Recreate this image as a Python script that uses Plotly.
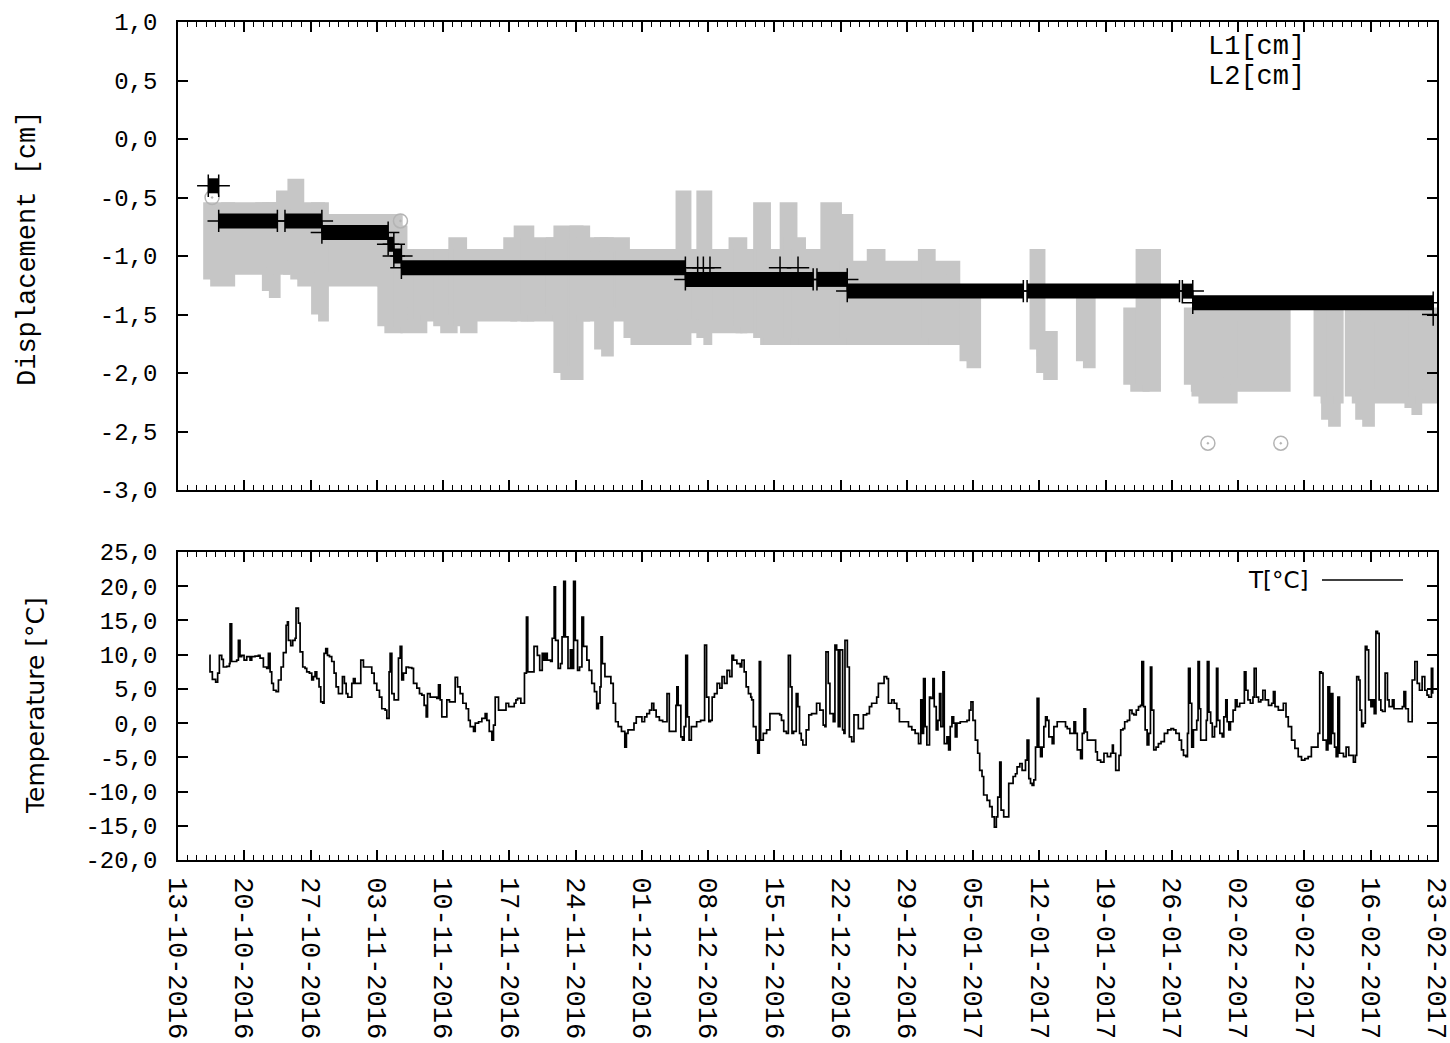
import pandas as pd
import plotly.graph_objects as go

START = pd.Timestamp("2016-10-13")
END_DAY = 133  # 23-02-2017

# ---------------- Temperature series (days since 13-10-2016, degC) ----------------
temp_day = [3.31, 3.38, 3.63, 3.98, 4.19, 4.37, 4.62, 4.79, 5.14, 5.43, 5.50, 5.67, 5.85, 6.20, 6.38, 6.55, 6.73, 6.98,
            7.26, 7.61, 7.79, 8.14, 8.49, 8.67, 9.02, 9.37, 9.55, 9.73, 9.90, 10.08, 10.36, 10.61, 10.89, 11.13, 11.42,
            11.56, 11.66, 11.91, 12.12, 12.37, 12.47, 12.72, 12.90, 13.18, 13.42, 13.60, 13.88, 14.13, 14.31, 14.48,
            14.66, 14.90, 15.08, 15.29, 15.43, 15.61, 15.79, 16.00, 16.24, 16.49, 16.70, 16.95, 17.20, 17.37, 17.58,
            17.76, 17.94, 18.18, 18.36, 18.53, 18.71, 19.06, 19.31, 19.59, 19.94, 20.23, 20.47, 20.72, 21.00, 21.28,
            21.53, 21.88, 22.06, 22.30, 22.41, 22.59, 22.83, 23.12, 23.29, 23.47, 23.64, 23.82, 24.10, 24.35, 24.70,
            24.88, 25.23, 25.51, 25.76, 26.00, 26.22, 26.36, 26.64, 26.99, 27.34, 27.52, 27.70, 27.87, 28.22, 28.40,
            28.68, 28.93, 29.28, 29.53, 29.81, 30.09, 30.44, 30.69, 30.87, 31.22, 31.40, 31.75, 32.10, 32.45, 32.63,
            32.88, 33.16, 33.33, 33.51, 33.86,
            34.30, 34.65, 34.93, 35.17, 35.52, 35.70, 35.87, 36.22, 36.46, 36.60, 36.81, 36.95, 37.37, 37.61, 37.79,
            37.96, 38.21, 38.48, 38.66, 38.83, 39.01, 39.36, 39.53, 39.74, 39.88, 40.16, 40.40, 40.57, 40.75, 40.92,
            41.20, 41.45, 41.62, 41.79, 41.97, 42.21, 42.42, 42.67, 42.84, 43.19, 43.43, 43.71, 43.99, 44.23, 44.41,
            44.58, 44.69, 44.83, 45.10, 45.45, 45.73, 45.98, 46.22, 46.50, 46.85, 47.20, 47.37, 47.54, 47.89, 48.17,
            48.41, 48.76, 49.01, 49.29, 49.53, 49.81, 50.05, 50.26, 50.51, 50.85, 51.20, 51.55, 51.66, 51.90, 52.25,
            52.60, 52.70, 52.84, 53.12, 53.29, 53.47, 53.64, 53.82, 53.99, 54.23, 54.51, 54.79, 55.21, 55.49, 55.63,
            55.84, 56.08, 56.25, 56.43, 56.67, 56.95, 57.23, 57.47, 57.72, 58.00, 58.28, 58.52, 58.69, 59.04, 59.39,
            59.56, 59.81, 60.02, 60.26, 60.51, 60.61, 60.78, 61.06, 61.24, 61.41, 61.55, 61.83, 62.18, 62.53, 62.87,
            63.22, 63.57, 63.75, 63.99, 64.27, 64.48, 64.69, 64.86, 65.03, 65.31, 65.49, 65.66, 65.84, 66.01, 66.36,
            66.64,
            66.93, 67.28, 67.46, 67.63, 67.81, 68.16, 68.34, 68.45, 68.69, 68.87, 69.22, 69.40, 69.58, 69.75, 69.93,
            70.21, 70.35, 70.46, 70.71, 70.92, 71.17, 71.41, 71.69, 71.87, 72.12, 72.40, 72.75, 73.04, 73.28, 73.64,
            73.81, 73.99, 74.34, 74.59, 74.87, 75.05, 75.40, 75.65, 75.93, 76.21, 76.46, 76.81, 77.17, 77.52, 77.87,
            78.23, 78.47, 78.58, 78.76, 78.93, 79.11, 79.39, 79.53, 79.75, 79.89, 80.10, 80.28, 80.45, 80.59, 80.81,
            80.95, 81.23, 81.41, 81.58, 81.76, 81.94, 82.11, 82.29, 82.64, 82.99, 83.35, 83.59, 83.77, 83.98, 84.23,
            84.48, 84.69, 84.94, 85.11, 85.47, 85.75, 86.00, 86.24, 86.45, 86.60, 86.81, 86.95, 87.23, 87.51, 87.76,
            87.94, 88.22, 88.47, 88.64, 88.93, 89.17, 89.35, 89.53, 89.70, 89.88, 90.06, 90.23, 90.41, 90.59, 90.76,
            90.94, 91.12, 91.29, 91.47, 91.65, 91.82, 92.00, 92.35, 92.53, 92.88, 93.23, 93.59, 93.76, 93.94, 94.22,
            94.47, 94.65, 94.82, 95.00, 95.35, 95.53, 95.71, 95.88, 96.06, 96.41, 96.77, 96.94, 97.12, 97.47, 97.82,
            98.18, 98.53, 98.71, 98.81, 99.06, 99.41, 99.59,
            99.83, 100.01, 100.29, 100.53, 100.78, 100.98, 101.23, 101.47, 101.68, 101.82, 102.00, 102.17, 102.38,
            102.56, 102.73, 102.87, 103.08, 103.32, 103.57, 103.85, 104.20, 104.55, 104.90, 105.17, 105.42, 105.77,
            106.01, 106.22, 106.47, 106.64, 106.75, 106.92, 107.09, 107.27, 107.62, 107.76, 107.90, 108.04, 108.39,
            108.63, 108.74, 108.91, 109.09, 109.26, 109.50, 109.71, 109.85, 110.06, 110.31, 110.48, 110.69, 110.83,
            111.01, 111.18, 111.46, 111.70, 111.88, 112.16, 112.40, 112.65, 112.82, 113.03, 113.28, 113.56, 113.69,
            113.90, 114.15, 114.39, 114.60, 114.85, 115.20, 115.54, 115.72, 115.89, 116.24, 116.59, 116.77, 117.05,
            117.29, 117.64, 117.99, 118.34, 118.69, 119.04, 119.39, 119.73, 120.08, 120.43, 120.61, 120.78, 120.96,
            121.31, 121.48, 121.66, 121.83, 122.00, 122.18, 122.35, 122.53, 122.70, 122.88, 123.12, 123.40, 123.68,
            123.92, 124.17, 124.38, 124.52, 124.73, 124.87, 125.04, 125.22, 125.43, 125.60, 125.78, 126.02, 126.20,
            126.37, 126.55, 126.72, 126.89, 127.07, 127.24, 127.52, 127.77, 127.94, 128.29, 128.46, 128.81, 129.16,
            129.34, 129.51, 129.69, 129.97, 130.21, 130.38, 130.66, 130.91, 131.15, 131.43, 131.71, 131.95, 132.13,
            132.41, 132.55]
temp_c = [9.9, 7.5, 6.4, 6.0, 7.3, 9.9, 9.3, 8.2, 8.3, 8.7, 14.5, 9.0, 9.0, 9.2, 12.1, 9.7, 9.9, 9.2,
          9.7, 9.2, 9.7, 9.8, 9.9, 9.5, 8.2, 8.0, 10.2, 7.5, 5.8, 4.8, 4.6, 6.3, 8.2, 10.3, 14.3,
          14.8, 12.1, 11.3, 12.1, 12.4, 16.8, 14.6, 10.4, 8.2, 8.0, 7.5, 7.3, 6.3, 6.8, 7.5,
          6.5, 5.3, 3.1, 2.9, 10.2, 10.9, 9.9, 9.7, 9.0, 7.3, 5.3, 4.3, 4.3, 6.8, 5.8,
          4.3, 3.8, 3.8, 5.8, 6.5, 5.8, 5.8, 9.2, 8.2, 8.2, 8.2, 7.3, 5.8, 4.8, 3.8,
          2.1, 1.9, 0.7, 7.5, 10.2, 4.3, 3.4, 3.4, 9.5, 11.2, 6.3, 7.3, 8.2, 8.1, 8.0,
          5.8, 5.1, 4.3, 4.1, 2.6, 0.9, 4.3, 3.8, 3.8, 3.6, 5.6, 3.4, 0.9, 0.9, 3.4,
          3.1, 3.1, 6.7, 5.3, 4.3, 2.9, 2.1, 0.4, -0.5, -1.2, 0.0, 0.2, 0.7, 1.4, 0.4,
          -1.2, -2.5, -0.3, 3.8, 1.9,
          1.9, 2.9, 2.4, 2.4, 2.9, 3.4, 3.6, 2.9, 2.9, 7.3, 15.5, 7.5, 7.5, 11.2, 11.2,
          9.9, 7.7, 10.2, 9.2, 10.2, 9.2, 9.0, 12.4, 19.9, 12.1, 8.0, 8.7, 12.6, 20.7, 12.6,
          8.0, 10.7, 8.0, 20.7, 12.1, 7.7, 8.2, 15.5, 11.2, 9.2, 7.7, 5.8, 4.6, 2.1, 2.9,
          5.3, 12.6, 8.7, 6.8, 6.8, 5.8, 2.9, 0.2, -0.5, -1.2, -3.5, -1.5, -1.0, -1.0, 0.0,
          0.9, 0.9, 0.2, 0.9, 1.4, 1.9, 2.9, 1.9, 0.9, 0.4, 0.2, 0.2, 4.3, -1.2, -1.2,
          2.6, 5.3, 2.6, -2.0, -2.5, -0.5, 9.9, 0.9, -2.5, -0.5, -0.5, 0.2, 0.4, 0.4, 11.4,
          3.8, 0.2, 0.4, 3.8, 4.3, 5.8, 5.1, 6.8, 5.8, 7.7, 6.8, 9.9, 9.2, 8.7, 8.2,
          9.2, 7.5, 5.3, 4.3, 3.8, 3.4, -0.5, -2.5, -4.4, 9.0, -2.5, -1.5, -1.0, 1.4, 1.4,
          1.4, 1.2, 0.4, -1.2, -1.5, 9.9, 5.3, -1.5, -1.2, 4.3, 2.4, -1.5, -2.5, -3.2, -1.0,
          1.2,
          1.4, 1.4, 2.9, 2.9, 1.9, -0.3, -0.5, 10.4, 5.8, 1.4, 0.2, 11.4, 10.7, -0.5, 10.7,
          -1.0, -1.5, 12.1, 8.2, -2.0, -2.7, 1.2, 1.2, -0.8, -0.8, 1.2, 1.4, 2.4, 2.9, 2.9,
          3.8, 5.8, 5.8, 6.8, 6.5, 2.9, 3.4, 2.9, 2.1, 0.2, 0.2, 0.2, -0.5, -1.0, -1.5,
          -3.0, 3.4, -1.5, 6.5, -0.5, -3.2, 3.8, 3.6, 6.5, 2.4, -1.0, 0.4, 4.3, -0.5, 7.5,
          -3.0, -2.0, -3.9, -0.5, 0.9, 0.0, -2.0, 0.0, 0.2, 0.2, 0.4, 1.9, 3.1, 0.4, -2.5,
          -4.4, -6.9, -7.8, -10.5, -11.3, -12.2, -13.7, -15.2, -13.7, -10.8, -5.7, -12.7, -13.7, -13.7, -8.8,
          -8.8, -7.8, -7.4, -6.4, -5.9, -6.9, -6.9, -5.4, -2.5, -8.1, -8.8, -9.1, -8.3, -3.5, 3.6,
          -3.5, -4.9, -3.5, -0.5, 0.9, 0.4, -2.0, -3.0, -0.5, 0.2, 0.2, 0.2, -0.5, -0.8, -1.5,
          -1.5, 0.2, -1.5, -3.9, -5.2, -1.5, 2.1, -1.3, -2.5, -2.5, -2.5, -4.2, -5.4, -5.7, -4.4,
          -4.9, -4.4, -3.2, -4.4, -6.9, -4.7, -1.0,
          -0.8, 0.2, 0.4, 1.9, 1.4, 1.2, 1.9, 2.4, 2.6, 9.0, 2.4, -1.0, -3.2,
          -1.5, 8.2, 1.9, -3.9, -3.5, -3.0, -2.7, -1.5, -1.0, -0.8, -1.0, -1.5, -2.5,
          -3.9, -4.7, -4.9, -1.5, 8.0, 2.9, -3.5, -1.0, 0.4, 9.0, 2.1, -2.5, -2.5,
          0.4, 9.0, 1.6, 0.0, -2.0, -0.5, 8.0, 0.4, -1.5, -2.0, 0.9, 3.4, 0.2,
          -1.0, 0.2, 1.9, 3.4, 2.4, 2.9, 2.9, 7.5, 4.8, 3.4, 2.9, 3.8, 8.0,
          3.8, 3.1, 3.4, 4.8, 3.4, 2.6, 2.9, 4.6, 2.4, 1.9, 1.9, 2.9, 0.9,
          -0.5, -2.5, -3.7, -4.9, -5.4, -5.2, -4.9, -3.5, -3.5, -1.5, 7.5, 7.3, -2.5,
          -3.9, 5.3, -3.0, 4.3, -1.5, -3.5, -4.9, 3.8, -4.4, -4.4, -4.9, -3.5, -4.7,
          -4.7, -5.7, -4.7, 6.8, 6.3, 1.9, -0.5, 0.0, 11.2, 10.7, 3.4, 2.4, 3.4,
          1.4, 13.4, 13.1, 3.4, 1.9, 1.7, 7.3, 3.4, 2.4, 3.4, 2.1, 2.1, 2.1,
          2.4, 4.6, 2.1, 0.2, 0.2, 6.3, 9.0, 5.8, 4.8, 6.8, 4.8, 4.1, 3.8,
          8.0, 4.3]

# ---------------- L1 [cm]: spread of readings per period (start day, end day, low, high) ----------------
l1_start = [3.4, 5.3, 8.9, 9.6, 10.1, 11.1, 12.3, 12.6, 14.8, 15.2, 21.0, 21.8, 23.0, 23.5, 25.6, 27.7, 28.8,
            29.3, 29.8, 30.9, 35.1, 36.2, 36.9, 39.6, 40.4, 42.1, 42.8, 44.7, 45.3,
            47.8, 53.3, 53.5, 55.5, 55.7, 58.9, 59.4, 61.5, 61.9, 64.3, 64.7, 65.6, 68.6, 69.4, 70.6,
            73.5, 74.0, 78.9, 79.3, 83.3, 90.7, 91.4, 95.6, 100.6, 101.9, 107.0, 107.8, 111.2,
            120.7, 121.5, 122.1, 124.0, 125.1, 125.7, 130.3, 130.7]
l1_end = [5.3, 8.9, 9.6, 10.1, 11.1, 12.3, 12.6, 14.8, 15.2, 21.0, 21.8, 23.0, 23.5, 25.6, 27.7, 28.8, 29.3,
          29.8, 30.9, 35.1, 36.2, 36.9, 39.6, 40.4, 42.1, 42.8, 44.7, 45.3, 47.0,
          53.3, 53.5, 55.5, 55.7, 58.9, 59.4, 61.5, 61.9, 64.3, 64.7, 65.6, 68.6, 69.4, 70.6, 73.5,
          74.0, 78.9, 79.3, 81.9, 84.1, 90.9, 92.2, 96.2, 101.9, 103.1, 107.8, 111.2, 116.8,
          121.5, 122.1, 122.4, 125.1, 125.7, 130.3, 130.7, 132.9]
l1_low = [-1.2, -1.1, -1.1, -1.3, -1.1, -1.1, -1.1, -1.2, -1.5, -1.2, -1.2, -1.6, -1.5, -1.6, -1.5, -1.6, -1.5,
          -1.5, -1.6, -1.5, -1.5, -1.5, -1.5, -1.5, -2.0, -1.5, -1.5, -1.8, -1.5,
          -1.7, -1.7, -1.6, -1.7, -1.6, -1.6, -1.6, -1.7, -1.7, -1.7, -1.7, -1.7, -1.7, -1.7, -1.7,
          -1.7, -1.7, -1.7, -1.7, -1.9, -1.8, -2.0, -1.9, -2.1, -2.1, -2.1, -2.2, -2.1,
          -2.2, -2.4, -2.2, -2.2, -2.4, -2.2, -2.3, -2.2]
l1_high = [-0.6, -0.6, -0.6, -0.6, -0.6, -0.5, -0.4, -0.6, -0.6, -0.7, -0.7, -0.7, -0.8, -1.0, -1.0, -1.0, -1.0,
           -0.9, -1.0, -1.0, -0.9, -0.8, -0.9, -0.9, -0.8, -0.8, -0.9, -0.9, -0.9,
           -1.0, -0.5, -1.0, -0.5, -1.0, -0.9, -1.0, -0.6, -1.0, -0.6, -0.9, -1.0, -0.6, -0.7, -1.1,
           -1.0, -1.1, -1.0, -1.1, -1.4, -1.0, -1.7, -1.4, -1.5, -1.0, -1.5, -1.5, -1.5,
           -1.5, -1.5, -1.5, -1.5, -1.5, -1.5, -1.5, -1.5]
l1_single_day = [3.6, 23.5, 108.8, 116.5]
l1_single_val = [-0.5, -0.7, -2.6, -2.6]

# ---------------- L2 [cm]: constant readings per period ----------------
l2_start = [3.2, 4.3, 11.3, 15.2, 22.2, 22.8, 23.6, 53.6, 67.5, 70.7, 89.7, 106.1, 107.2]
l2_end = [4.3, 10.5, 15.2, 22.2, 22.8, 23.6, 53.6, 67.1, 70.7, 89.3, 105.8, 107.2, 132.6]
l2_val = [-0.4, -0.7, -0.7, -0.8, -0.9, -1.0, -1.1, -1.2, -1.2, -1.3, -1.3, -1.3, -1.4]
l2_single_day = [54.9, 55.5, 56.2, 63.6, 65.5, 132.6]
l2_single_val = [-1.1, -1.1, -1.1, -1.1, -1.1, -1.5]

# ---------------- Axis ticks ----------------
disp_tickvals = [1.0, 0.5, 0.0, -0.5, -1.0, -1.5, -2.0, -2.5, -3.0]
disp_ticktext = ["1,0", "0,5", "0,0", "-0,5", "-1,0", "-1,5", "-2,0", "-2,5", "-3,0"]
temp_tickvals = [25, 20, 15, 10, 5, 0, -5, -10, -15, -20]
temp_ticktext = ["25,0", "20,0", "15,0", "10,0", "5,0", "0,0", "-5,0", "-10,0", "-15,0", "-20,0"]


def to_date(d):
    return START + pd.to_timedelta(d, unit="D")


DAY_MS = 86400000
MONO = "Liberation Mono"
SANS = "DejaVu Sans"
GRAY = "#c6c6c6"

fig = go.Figure()

# L1 spread: one closed outline per period, stroke width mimics the circle markers' radius
px_, py_ = [], []
for s, e, lo, hi in zip(l1_start, l1_end, l1_low, l1_high):
    px_ += [to_date(s), to_date(e), to_date(e), to_date(s), to_date(s), None]
    py_ += [lo, lo, hi, hi, lo, None]
fig.add_trace(go.Scatter(
    x=px_, y=py_, mode="lines", fill="toself", fillcolor=GRAY,
    line=dict(color=GRAY, width=14),
    xaxis="x", yaxis="y", showlegend=False, hoverinfo="skip"))
fig.add_trace(go.Scatter(
    x=[to_date(d) for d in l1_single_day], y=l1_single_val, mode="markers",
    marker=dict(symbol="circle-open-dot", size=14, color="#b4b4b4", line=dict(width=1.5)),
    xaxis="x", yaxis="y", showlegend=False))

# L2 as dense '+' band
lx, ly = [], []
for s, e, v in zip(l2_start, l2_end, l2_val):
    lx += [to_date(s), to_date(e), None]
    ly += [v, v, None]
fig.add_trace(go.Scatter(x=lx, y=ly, mode="lines", line=dict(color="black", width=15),
                         xaxis="x", yaxis="y", showlegend=False))
ex = [to_date(s) for s in l2_start] + [to_date(e) for e in l2_end] + [to_date(d) for d in l2_single_day]
ey = list(l2_val) + list(l2_val) + list(l2_single_val)
fig.add_trace(go.Scatter(x=ex, y=ey, mode="markers",
                         marker=dict(symbol="cross-thin", size=16, line=dict(color="black", width=1.5)),
                         xaxis="x", yaxis="y", showlegend=False))

# Temperature
fig.add_trace(go.Scatter(x=[to_date(d) for d in temp_day], y=temp_c, mode="lines",
                         line=dict(color="black", width=1.7, shape="hv"),
                         xaxis="x2", yaxis="y2", showlegend=False))

xcommon = dict(type="date", range=[START, to_date(END_DAY + 0.002)], tick0=START, dtick=7 * DAY_MS,
               ticks="inside", ticklen=10, tickwidth=1.5, tickcolor="black",
               minor=dict(dtick=DAY_MS, ticks="inside", ticklen=5, tickwidth=1, tickcolor="black"),
               showline=True, linecolor="black", linewidth=1.5, mirror="ticks",
               showgrid=False, zeroline=False, automargin=False)
ycommon = dict(ticks="inside", ticklen=10, tickwidth=1.5, tickcolor="black",
               showline=True, linecolor="black", linewidth=1.5, mirror="ticks",
               showgrid=False, zeroline=False, tickfont=dict(family=MONO, size=24, color="black"),
               ticklabelstandoff=14, automargin=False)

H_PLOT = 838.0
fig.update_layout(
    width=1450, height=1043,
    margin=dict(l=178, r=13, t=22, b=183, autoexpand=False),
    paper_bgcolor="white", plot_bgcolor="white",
    showlegend=False,
    xaxis=dict(xcommon, anchor="y", showticklabels=False),
    yaxis=dict(ycommon, domain=[(860 - 490) / H_PLOT, 1.0], range=[-3, 1],
               tickvals=disp_tickvals, ticktext=disp_ticktext),
    xaxis2=dict(xcommon, anchor="y2", showticklabels=True, tickformat="%d-%m-%Y", tickangle=90,
                tickfont=dict(family=MONO, size=27, color="black"), ticklabelstandoff=10,
                ticklabeloverflow="allow"),
    yaxis2=dict(ycommon, domain=[0, (860 - 552) / H_PLOT], range=[-20, 25],
                tickvals=temp_tickvals, ticktext=temp_ticktext),
)

ann = []
ann.append(dict(text="Displacement [cm]", xref="paper", yref="paper", x=(28 - 178) / 1259, y=(860 - 249) / H_PLOT,
                textangle=-90, showarrow=False, font=dict(family=MONO, size=27, color="black"),
                xanchor="center", yanchor="middle"))
ann.append(dict(text="Temperature [°C]", xref="paper", yref="paper", x=(35 - 178) / 1259, y=(860 - 706) / H_PLOT,
                textangle=-90, showarrow=False, font=dict(family=SANS, size=25, color="black"),
                xanchor="center", yanchor="middle"))
ann.append(dict(text="L1[cm]", xref="paper", yref="paper", x=(1307 - 178) / 1259, y=(860 - 47) / H_PLOT,
                showarrow=False, font=dict(family=MONO, size=27, color="black"), xanchor="right", yanchor="middle"))
ann.append(dict(text="L2[cm]", xref="paper", yref="paper", x=(1307 - 178) / 1259, y=(860 - 77) / H_PLOT,
                showarrow=False, font=dict(family=MONO, size=27, color="black"), xanchor="right", yanchor="middle"))
ann.append(dict(text="T[°C]", xref="paper", yref="paper", x=(1311 - 178) / 1259, y=(860 - 580) / H_PLOT,
                showarrow=False, font=dict(family=SANS, size=23, color="black"), xanchor="right", yanchor="middle"))
fig.update_layout(annotations=ann)
fig.add_shape(type="line", xref="paper", yref="paper",
              x0=(1322 - 178) / 1259, x1=(1403 - 178) / 1259,
              y0=(860 - 580) / H_PLOT, y1=(860 - 580) / H_PLOT,
              line=dict(color="black", width=1.5))

fig.write_html("out.html", config={"displayModeBar": False},
               post_script="document.body.style.margin='0px';document.body.style.overflow='hidden';")
